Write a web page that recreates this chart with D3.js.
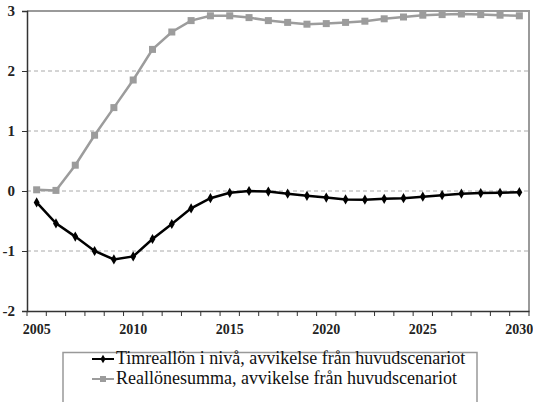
<!DOCTYPE html>
<html>
<head>
<meta charset="utf-8">
<script src="https://cdn.jsdelivr.net/npm/d3@7"></script>
<style>
  body { margin: 0; background: #fff; }
</style>
</head>
<body>
<div class="chart"></div>
<script>
const years = d3.range(2005, 2031);
const yearLabels = [2005, 2010, 2015, 2020, 2025, 2030];
const timreallon = [-0.19, -0.54, -0.76, -1.0, -1.14, -1.09, -0.80, -0.55, -0.29, -0.12,
  -0.03, 0.0, -0.01, -0.045, -0.08, -0.11, -0.14, -0.145, -0.13, -0.12,
  -0.095, -0.07, -0.045, -0.035, -0.03, -0.02];
const reallonesumma = [0.02, 0.01, 0.43, 0.93, 1.39, 1.85, 2.36, 2.65, 2.84, 2.92,
  2.92, 2.89, 2.84, 2.81, 2.78, 2.79, 2.81, 2.83, 2.87, 2.90,
  2.93, 2.94, 2.95, 2.94, 2.93, 2.92];
const yTicks = [-2, -1, 0, 1, 2, 3];
const seriesNames = ["Timreallön i nivå, avvikelse från huvudscenariot",
  "Reallönesumma, avvikelse från huvudscenariot"];

const serif = '"Liberation Serif"';
const width = 533, height = 402;
const margin = { top: 11, right: 4, bottom: 91, left: 27 };

const svg = d3.select(".chart").append("svg")
  .attr("width", width)
  .attr("height", height);

const x = d3.scaleBand()
  .domain(years)
  .range([margin.left, width - margin.right]);

const y = d3.scaleLinear()
  .domain([-2, 3])
  .range([height - margin.bottom, margin.top]);

// dashed grid
svg.append("g")
  .selectAll("line")
  .data(yTicks.filter(d => d > -2 && d < 3))
  .join("line")
  .attr("x1", margin.left)
  .attr("x2", width - margin.right)
  .attr("y1", d => y(d))
  .attr("y2", d => y(d))
  .attr("stroke", "#aaa")
  .attr("stroke-dasharray", "4 3");

// top and right frame
svg.append("path")
  .attr("d", `M${margin.left},${y(3)}H${width - margin.right}V${y(-2)}`)
  .attr("fill", "none")
  .attr("stroke", "#9a9a9a")
  .attr("stroke-width", 2);

// x axis
const xAxis = g => g
  .attr("transform", `translate(0,${y(-2)})`)
  .call(d3.axisBottom(x).tickValues(yearLabels).tickSize(0).tickPadding(13))
  .call(g => g.select(".domain").attr("stroke", "#333").attr("stroke-width", 1.5))
  .call(g => g.selectAll("text")
    .style("font-family", serif).attr("font-size", 14).attr("font-weight", "bold").attr("fill", "#222"))
  .call(g => g.selectAll(".boundary")
    .data(d3.range(years.length + 1))
    .join("line")
    .attr("class", "boundary")
    .attr("x1", i => margin.left + i * x.step())
    .attr("x2", i => margin.left + i * x.step())
    .attr("y1", 0)
    .attr("y2", 5)
    .attr("stroke", "#333"));
svg.append("g").call(xAxis);

// y axis (plain hyphen for negatives, like the original)
const yAxis = g => g
  .attr("transform", `translate(${margin.left},0)`)
  .call(d3.axisLeft(y).tickValues(yTicks).tickFormat(d => String(d)).tickSize(5).tickPadding(7))
  .call(g => g.select(".domain").attr("stroke", "#333").attr("stroke-width", 1.5))
  .call(g => g.selectAll(".tick line").attr("stroke", "#333"))
  .call(g => g.selectAll("text")
    .style("font-family", serif).attr("font-size", 15).attr("font-weight", "bold").attr("fill", "#222"));
svg.append("g").call(yAxis);

const line = d3.line()
  .x((d, i) => x(years[i]) + x.bandwidth() / 2)
  .y(d => y(d));

const cx = i => x(years[i]) + x.bandwidth() / 2;

// gray series
svg.append("path")
  .datum(reallonesumma)
  .attr("fill", "none")
  .attr("stroke", "#9c9c9c")
  .attr("stroke-width", 2.5)
  .attr("d", line);
svg.append("g")
  .selectAll("rect")
  .data(reallonesumma)
  .join("rect")
  .attr("x", (d, i) => cx(i) - 3.5)
  .attr("y", d => y(d) - 3.5)
  .attr("width", 7)
  .attr("height", 7)
  .attr("fill", "#9c9c9c");

// black series
const diamond = d3.symbol().type(d3.symbolDiamond).size(30);
svg.append("path")
  .datum(timreallon)
  .attr("fill", "none")
  .attr("stroke", "#000")
  .attr("stroke-width", 2.5)
  .attr("d", line);
svg.append("g")
  .selectAll("path")
  .data(timreallon)
  .join("path")
  .attr("transform", (d, i) => `translate(${cx(i)},${y(d)})`)
  .attr("d", diamond)
  .attr("fill", "#000");

// legend
const legend = svg.append("g");
legend.append("rect")
  .attr("x", 63)
  .attr("y", 352.5)
  .attr("width", 414)
  .attr("height", 60)
  .attr("fill", "#fff")
  .attr("stroke", "#999")
  .attr("stroke-width", 1.5);

const items = [
  { name: seriesNames[0], color: "#000", shape: "diamond" },
  { name: seriesNames[1], color: "#9c9c9c", shape: "square" }
];
const row = legend.selectAll(".item")
  .data(items)
  .join("g")
  .attr("class", "item")
  .attr("transform", (d, i) => `translate(0,${359 + i * 20})`);
row.append("line")
  .attr("x1", 92).attr("x2", 114)
  .attr("stroke", d => d.color)
  .attr("stroke-width", 2);
row.append("path")
  .attr("transform", "translate(103,0)")
  .attr("d", d => d.shape === "diamond" ? d3.symbol().type(d3.symbolDiamond).size(22)() : "M-3,-3h6v6h-6z")
  .attr("fill", d => d.color);
row.append("text")
  .attr("x", 116)
  .attr("dy", "0.3em")
  .style("font-family", serif)
  .attr("font-size", 18)
  .attr("fill", "#111")
  .text(d => d.name);
</script>
</body>
</html>
